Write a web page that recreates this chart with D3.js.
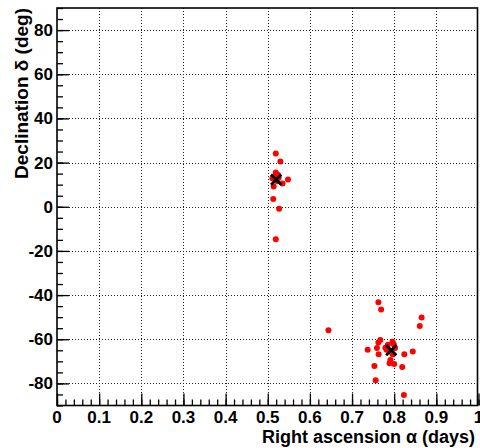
<!DOCTYPE html>
<html>
<head>
<meta charset="utf-8">
<script src="https://cdn.jsdelivr.net/npm/d3@7"></script>
<style>
  body { margin: 0; background: #fff; }
  text { font-family: "Liberation Sans", Arial, sans-serif; font-weight: bold; fill: #000; }
</style>
</head>
<body>
<script>
// event positions (right ascension in days, declination in deg)
const eventRa = [0.519, 0.530, 0.519, 0.524, 0.516, 0.511, 0.548, 0.523, 0.535, 0.514, 0.513, 0.527, 0.519, 0.526,
  0.7625, 0.769, 0.644, 0.865, 0.8606, 0.767, 0.7625, 0.737, 0.759, 0.763, 0.753, 0.756, 0.779, 0.782,
  0.791, 0.796, 0.799, 0.796, 0.844, 0.824, 0.791, 0.789, 0.800, 0.819, 0.823, 0.785, 0.802];
const eventDec = [24.1, 20.5, 15.5, 14.5, 13.5, 12.9, 12.3, 11.6, 10.5, 9.2, 3.5, -0.9, -14.7, 13.2,
  -43.2, -46.5, -55.9, -50.2, -54.0, -60.3, -61.5, -64.7, -64.0, -66.8, -72.1, -78.6, -63.8, -64.7,
  -65.6, -61.1, -62.3, -66.8, -65.6, -66.8, -69.4, -70.9, -71.2, -72.6, -85.2, -62.5, -64.0];
// source positions (X markers)
const srcRa = [0.520, 0.793];
const srcDec = [12.3, -64.9];

const xTicks = [0, 0.1, 0.2, 0.3, 0.4, 0.5, 0.6, 0.7, 0.8, 0.9, 1];
const yTicks = [-80, -60, -40, -20, 0, 20, 40, 60, 80];

const width = 480, height = 448;
const fLeft = 57, fRight = 477.5, fTop = 8, fBottom = 405.5;

const svg = d3.select('body').append('svg')
  .attr('width', width)
  .attr('height', height);

const x = d3.scaleLinear().domain([0, 1]).range([fLeft, 478.5]);
const y = d3.scaleLinear().domain([-90, 90]).range([fBottom, fTop]);

// grid
const grid = svg.append('g')
  .attr('stroke', '#222')
  .attr('stroke-width', 1)
  .attr('stroke-dasharray', '1,2');
grid.selectAll('.gx')
  .data(xTicks.filter(d => d > 0 && d < 1))
  .enter().append('line')
  .attr('x1', d => Math.round(x(d)) + 0.5).attr('x2', d => Math.round(x(d)) + 0.5)
  .attr('y1', fTop).attr('y2', fBottom);
grid.selectAll('.gy')
  .data(yTicks)
  .enter().append('line')
  .attr('y1', d => Math.round(y(d)) + 0.5).attr('y2', d => Math.round(y(d)) + 0.5)
  .attr('x1', fLeft).attr('x2', fRight);

// bottom axis, ticks pointing into the frame
const xAxis = svg.append('g').attr('transform', `translate(0,${fBottom})`);
xAxis.append('g').call(d3.axisBottom(x).tickValues(d3.range(0, 1.0001, 0.02)).tickSize(-6).tickFormat(''));
xAxis.append('g').call(d3.axisBottom(x).tickValues(xTicks).tickSize(-12).tickFormat(''));
xAxis.selectAll('.domain').remove();
xAxis.selectAll('line').attr('stroke', '#000').attr('stroke-width', 1.3);

svg.append('g').selectAll('text')
  .data(xTicks)
  .enter().append('text')
  .attr('x', d => x(d))
  .attr('y', 423)
  .attr('text-anchor', 'middle')
  .style('font-size', '17px')
  .text(d => d3.format('')(d));

// left axis
const yAxis = svg.append('g').attr('transform', `translate(${fLeft},0)`);
yAxis.append('g').call(d3.axisLeft(y).tickValues(d3.range(-90, 90.001, 5)).tickSize(-6).tickFormat(''));
yAxis.append('g').call(d3.axisLeft(y).tickValues(yTicks).tickSize(-12).tickFormat(''));
yAxis.selectAll('.domain').remove();
yAxis.selectAll('line').attr('stroke', '#000').attr('stroke-width', 1.3);

svg.append('g').selectAll('text')
  .data(yTicks)
  .enter().append('text')
  .attr('x', 53)
  .attr('y', d => y(d) + 6)
  .attr('text-anchor', 'end')
  .style('font-size', '17px')
  .text(d => d);

// frame
svg.append('rect')
  .attr('x', fLeft).attr('y', fTop)
  .attr('width', fRight - fLeft).attr('height', fBottom - fTop)
  .attr('fill', 'none')
  .attr('stroke', '#000')
  .attr('stroke-width', 1.6);

// axis titles
svg.append('text')
  .attr('x', 475).attr('y', 443)
  .attr('text-anchor', 'end')
  .style('font-size', '18px')
  .text('Right ascension α (days)');

svg.append('text')
  .attr('transform', 'translate(28,8) rotate(-90)')
  .attr('text-anchor', 'end')
  .style('font-size', '19px')
  .text('Declination δ (deg)');

// events
svg.append('g').selectAll('circle')
  .data(eventRa.map((r, i) => [r, eventDec[i]]))
  .enter().append('circle')
  .attr('cx', d => x(d[0]))
  .attr('cy', d => y(d[1]))
  .attr('r', 3)
  .attr('fill', '#ff0000');

// sources
const cross = d3.symbol().type(d3.symbolX).size(70);
svg.append('g').selectAll('path')
  .data(srcRa.map((r, i) => [r, srcDec[i]]))
  .enter().append('path')
  .attr('transform', d => `translate(${x(d[0])},${y(d[1])})`)
  .attr('d', cross)
  .attr('fill', 'none')
  .attr('stroke', '#000')
  .attr('stroke-width', 2.8);
</script>
</body>
</html>
